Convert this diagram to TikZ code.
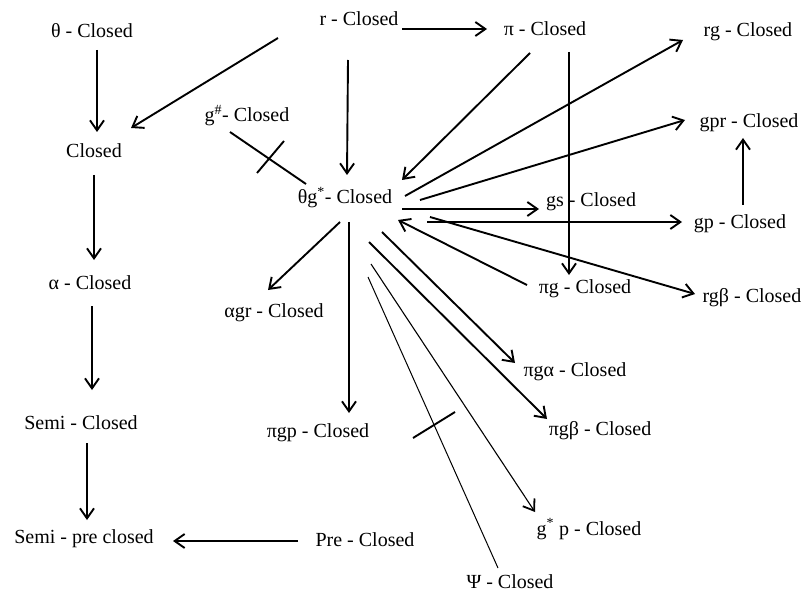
\documentclass[tikz,border=0pt]{standalone}
\usepackage{fontspec}
\setmainfont{Liberation Serif}
\usetikzlibrary{arrows.meta}
\tikzset{
  lbl/.style={anchor=base, inner sep=0pt, font=\fontsize{20}{24}\selectfont},
  arr/.style={line width=1.9pt, -{Straight Barb[length=10pt,width=14pt]}},
  thinarr/.style={line width=1.1pt, -{Straight Barb[length=10pt,width=14pt,line width=1.8pt]}},
  plain/.style={line width=1.9pt},
  thinline/.style={line width=1pt},
}
\begin{document}
\begin{tikzpicture}[x=1pt,y=-1pt]
\useasboundingbox[fill=white] (0,0) rectangle (804,591);
% nodes (base points)
\node[lbl] (th)  at (92,38)   {θ - Closed};
\node[lbl] (cl)  at (94,158)  {Closed};
\node[lbl] (al)  at (90,289)  {α - Closed};
\node[lbl] (se)  at (81,429)  {Semi - Closed};
\node[lbl] (sp)  at (84,543)  {Semi - pre closed};
\node[lbl] (pre) at (365,546) {Pre - Closed};
\node[lbl] (r)   at (359,26)  {r - Closed};
\node[lbl] (pi)  at (545,36)  {π - Closed};
\node[lbl] (rg)  at (748,37)  {rg - Closed};
\node[lbl] (gpr) at (749,128) {gpr - Closed};
\node[lbl] (gh)  at (247,122) {g\textsuperscript{\#}- Closed};
\node[lbl] (tg)  at (345,204) {θg\textsuperscript{*}- Closed};
\node[lbl] (gs)  at (591,207) {gs - Closed};
\node[lbl] (gp)  at (740,229) {gp - Closed};
\node[lbl] (pg)  at (585,293) {πg - Closed};
\node[lbl] (rgb) at (752,302) {rgβ - Closed};
\node[lbl] (agr) at (274,317) {αgr - Closed};
\node[lbl] (pga) at (575,376) {πgα - Closed};
\node[lbl] (pgb) at (600,435) {πgβ - Closed};
\node[lbl] (pgp) at (318,437) {πgp - Closed};
\node[lbl] (gsp) at (589,535) {g\textsuperscript{*} p - Closed};
\node[lbl] (psi) at (510,588) {Ψ - Closed};
% left column
\draw[arr] ([shift={(5,12)}]th.base) -- ([shift={(3,-26)}]cl.base);
\draw[arr] ([shift={(0,17)}]cl.base) -- ([shift={(4,-29)}]al.base);
\draw[arr] ([shift={(2,17)}]al.base) -- ([shift={(11,-39)}]se.base);
\draw[arr] ([shift={(6,14)}]se.base) -- ([shift={(3,-23)}]sp.base);
\draw[arr] ([shift={(-67,-5)}]pre.base) -- ([shift={(89,-2)}]sp.base);
% from r
\draw[arr] ([shift={(-81,12)}]r.base) -- ([shift={(37,-30)}]cl.base);
\draw[arr] ([shift={(-11,34)}]r.base) -- ([shift={(2,-29)}]tg.base);
\draw[arr] ([shift={(43,3)}]r.base) -- ([shift={(-58,-7)}]pi.base);
% from pi
\draw[arr] ([shift={(-15,17)}]pi.base) -- ([shift={(57,-24)}]tg.base);
\draw[arr] ([shift={(24,16)}]pi.base) -- ([shift={(-16,-18)}]pg.base);
% g# -- theta g*
\draw[plain] ([shift={(-17,10)}]gh.base) -- ([shift={(-39,-20)}]tg.base);
\draw[plain] ([shift={(10,51)}]gh.base) -- ([shift={(37,19)}]gh.base);
% from theta g*
\draw[arr] ([shift={(60,-8)}]tg.base) -- ([shift={(-65,3)}]rg.base);
\draw[arr] ([shift={(75,-4)}]tg.base) -- ([shift={(-64,-8)}]gpr.base);
\draw[arr] ([shift={(3,-24)}]gp.base) -- ([shift={(-6,10)}]gpr.base);
\draw[arr] ([shift={(57,5)}]tg.base) -- ([shift={(-52,2)}]gs.base);
\draw[arr] ([shift={(82,18)}]tg.base) -- ([shift={(-58,-7)}]gp.base);
\draw[arr] ([shift={(85,13)}]tg.base) -- ([shift={(-57,-8)}]rgb.base);
\draw[arr] ([shift={(-58,-8)}]pg.base) -- ([shift={(53,16)}]tg.base);
\draw[arr] ([shift={(-5,18)}]tg.base) -- ([shift={(-6,-27)}]agr.base);
\draw[arr] ([shift={(4,18)}]tg.base) -- ([shift={(31,-24)}]pgp.base);
\draw[arr] ([shift={(37,28)}]tg.base) -- ([shift={(-60,-13)}]pga.base);
\draw[arr] ([shift={(24,38)}]tg.base) -- ([shift={(-53,-16)}]pgb.base);
\draw[thinarr] ([shift={(26,60)}]tg.base) -- ([shift={(-54,-23)}]gsp.base);
\draw[thinline] ([shift={(23,73)}]tg.base) -- ([shift={(-12,-20)}]psi.base);
\draw[plain] ([shift={(68,234)}]tg.base) -- ([shift={(110,208)}]tg.base);
\end{tikzpicture}
\end{document}
